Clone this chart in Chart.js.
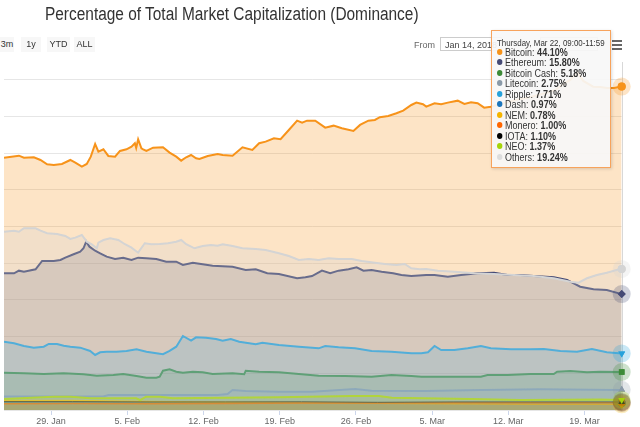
<!DOCTYPE html>
<html>
<head>
<meta charset="utf-8">
<script src="https://cdn.jsdelivr.net/npm/chart.js@4.4.1/dist/chart.umd.min.js"></script>
<style>
  html, body { margin: 0; padding: 0; background: #fff; }
  #wrap { position: relative; width: 640px; height: 427px; overflow: hidden; font-family: "Liberation Sans", Arial, sans-serif; }
  #c { position: absolute; left: 0; top: 0; }
  .t { position: absolute; white-space: nowrap; transform-origin: left center; }
  #title { left: 45px; top: 4px; font-size: 18px; color: #333; transform: scaleX(0.857); }
  .btn { position: absolute; top: 37px; height: 15px; background: #f7f7f7; color: #333; font-size: 9px; line-height: 15px; text-align: center; }
  #from { left: 414px; top: 38px; font-size: 9px; color: #666; line-height: 14px; }
  .inp { position: absolute; top: 37px; height: 14px; border: 1px solid #cccccc; background: #fff; font-size: 9px; line-height: 14px; color: #444; padding-left: 4px; box-sizing: border-box; overflow: hidden; white-space: nowrap; }
  #burger { position: absolute; left: 612px; top: 40px; width: 10px; }
  #burger div { height: 2px; background: #666; margin-bottom: 2px; }
  #tip { position: absolute; left: 491px; top: 30px; width: 120px; height: 138px; border: 1px solid #f7a35c; background: rgba(247,247,247,0.92); box-sizing: border-box; box-shadow: 1px 1px 3px rgba(0,0,0,0.15); }
  #tip .hd { position: absolute; left: 5px; top: 7px; font-size: 9px; color: #333; white-space: nowrap; transform-origin: left center; transform: scaleX(0.88); }
  #tip .row { position: absolute; left: 5px; font-size: 10px; color: #333; white-space: nowrap; transform-origin: left center; transform: scaleX(0.9); }
  #tip .dot { display: inline-block; width: 6px; height: 6px; border-radius: 3px; margin-right: 3px; vertical-align: 1px; }
</style>
</head>
<body>
<div id="wrap">
  <canvas id="c" width="640" height="427"></canvas>
  <div class="t" id="title">Percentage of Total Market Capitalization (Dominance)</div>
  <div class="btn" style="left:0px;width:14px;">3m</div>
  <div class="btn" style="left:21px;width:20px;">1y</div>
  <div class="btn" style="left:47px;width:23px;">YTD</div>
  <div class="btn" style="left:74px;width:21px;">ALL</div>
  <div class="t" id="from">From</div>
  <div class="inp" style="left:440px;width:62px;">Jan 14, 2018</div>
  <div class="inp" style="left:540px;width:58px;"></div>
  <div id="burger"><div></div><div></div><div></div></div>
  <div id="tip"></div>
</div>
<script>
// ---- x positions: days relative to 29 Jan 2018 ----
const tickDays = [0, 7, 14, 21, 28, 35, 42, 49];
const tickLabels = ['29. Jan', '5. Feb', '12. Feb', '19. Feb', '26. Feb', '5. Mar', '12. Mar', '19. Mar'];
const xMin = -4.32, xMax = 52.41;

const seriesNames = ['Bitcoin','Ethereum','Bitcoin Cash','Litecoin','Ripple','Dash','NEM','Monero','IOTA','NEO','Others'];
const seriesColors = ['#f7931a','#454a75','#3d8b37','#8a9aa8','#27a2db','#1c75bc','#f5b400','#ff6600','#222222','#a6d40a','#d4d4d4'];
const tooltipValues = ['44.10%','15.80%','5.18%','2.75%','7.71%','0.97%','0.78%','1.00%','1.10%','1.37%','19.24%'];
const tooltipHeader = 'Thursday, Mar 22, 09:00-11:59';

const btcDays = [-4.32,-2.95,-2.49,-1.58,-0.97,-0.36,0.25,1.00,1.77,2.23,2.83,3.28,3.65,4.05,4.35,4.81,5.26,5.88,6.33,6.93,7.39,7.70,7.82,8.00,8.30,8.46,8.76,9.37,10.28,10.89,11.50,11.95,12.41,12.86,13.32,13.63,14.39,15.30,15.76,16.67,17.58,18.49,19.11,19.71,20.47,21.08,21.84,22.60,23.06,23.51,24.27,25.18,25.95,26.71,27.77,28.38,29.14,29.74,30.20,30.97,31.72,32.34,33.09,33.55,34.16,34.46,35.22,35.83,36.44,37.35,37.96,38.57,39.18,39.78,40.39,41.30,42.67,44.04,45.41,46.32,47.05,47.69,48.33,48.88,49.79,50.43,51.07,51.70,52.41];
const btcVals = [34.41,34.68,34.41,34.46,34.09,33.51,33.41,33.55,34.09,33.72,33.18,33.55,34.54,36.27,35.22,35.55,34.64,34.54,35.32,35.55,35.91,36.37,35.73,36.92,35.69,35.55,35.32,35.77,35.82,35.09,34.54,34.00,34.46,34.77,34.32,34.23,34.64,34.91,34.77,34.68,35.82,35.46,36.37,36.59,37.05,36.92,38.18,39.45,39.18,39.45,39.45,38.50,38.77,38.41,38.05,38.87,39.45,39.55,39.92,40.09,40.46,40.82,41.59,41.91,41.69,41.36,41.82,41.69,41.91,42.18,41.73,41.96,41.82,41.22,41.36,41.73,42.27,42.68,43.23,43.64,44.46,45.00,46.09,44.87,44.09,44.05,43.91,43.91,44.10];

const othDays = [-4.32,-3.40,-2.95,-2.49,-1.42,-0.97,-0.36,0.55,1.31,1.77,2.23,2.83,3.28,3.74,4.20,4.35,4.81,5.42,6.18,6.79,7.39,8.00,8.61,9.22,9.98,10.74,11.50,11.95,12.41,13.18,13.93,14.69,15.30,15.76,16.67,17.58,18.80,19.71,20.93,21.84,22.76,23.67,24.58,25.49,26.41,27.62,28.53,29.74,30.66,31.72,32.48,33.09,33.85,34.46,35.53,37.04,38.87,40.69,42.52,44.34,46.17,47.69,48.45,49.22,50.13,51.04,51.95,52.41];
const othVals = [24.31,24.45,24.31,24.78,24.78,24.45,24.10,24.00,23.73,23.32,23.50,23.86,22.95,22.60,22.05,22.82,23.18,23.41,23.18,22.60,22.13,21.45,22.73,22.60,22.64,22.73,22.95,23.18,22.60,22.05,22.36,22.50,22.41,22.60,22.36,22.05,21.96,21.82,21.37,21.00,20.46,20.59,20.46,20.69,20.59,20.59,20.32,20.09,19.91,19.77,19.91,19.32,19.19,19.23,19.00,18.86,18.64,18.55,18.41,18.27,17.96,17.50,17.36,17.96,18.41,18.72,19.09,19.24];

const ethDays = [-4.32,-3.40,-2.95,-2.49,-1.42,-0.82,0.25,0.86,1.31,2.07,2.68,2.98,3.23,3.53,4.05,4.51,5.11,5.88,6.63,7.39,8.00,8.76,9.67,10.58,11.50,12.11,13.02,13.93,14.84,16.67,17.88,18.80,19.86,20.93,22.60,23.36,23.97,24.88,25.64,26.41,27.32,28.07,28.69,29.44,30.36,31.42,32.18,33.09,34.46,35.22,36.44,37.66,39.18,40.69,41.92,43.13,44.34,46.17,47.39,48.60,49.82,51.04,52.41];
const ethVals = [18.64,18.64,19.00,18.86,19.19,20.32,20.32,20.46,20.77,21.23,21.59,22.05,22.95,22.27,21.72,21.37,20.91,20.59,20.77,20.46,20.77,20.69,20.59,20.22,20.22,19.77,20.09,19.87,19.68,19.54,19.09,19.19,18.64,18.55,17.96,18.10,18.27,19.00,18.64,19.00,19.19,19.46,19.00,19.09,18.86,18.64,18.41,18.27,18.41,18.41,18.18,18.41,18.64,18.72,18.41,18.41,18.27,18.10,17.73,16.81,16.46,16.36,15.80];

const xrpDays = [-4.32,-3.40,-2.49,-1.58,-0.67,-0.21,0.55,1.16,1.77,2.68,3.59,4.05,4.51,5.11,6.02,6.93,7.85,8.76,9.67,10.28,10.89,11.50,12.11,12.86,13.32,14.23,15.15,15.76,16.51,17.28,18.80,19.41,20.93,22.76,24.58,25.18,26.41,27.92,29.44,31.27,33.09,34.01,34.62,35.22,35.83,37.04,38.27,39.48,40.39,42.22,44.04,45.26,46.77,48.30,49.67,51.04,52.41];
const xrpVals = [9.31,9.10,8.73,8.50,8.63,9.00,9.00,8.77,8.63,8.50,8.05,7.50,7.87,7.95,7.95,8.05,8.28,7.95,7.73,7.60,8.05,8.63,10.09,9.45,9.91,9.86,9.68,9.45,9.68,9.31,8.96,9.18,8.86,8.63,8.41,8.73,8.55,8.41,8.05,7.95,7.73,7.73,7.87,8.73,8.18,8.18,8.41,8.73,8.41,8.28,8.28,8.32,8.05,7.95,8.32,7.87,7.71];

const bchDays = [-4.32,-2.49,-0.67,1.16,2.98,4.20,5.72,6.63,7.85,8.76,9.67,9.98,10.28,10.89,11.50,12.11,13.02,13.93,14.84,16.67,17.74,17.88,19.11,20.93,22.76,24.58,27.01,29.44,31.27,33.09,34.01,37.04,39.48,40.09,41.92,44.04,46.17,46.48,47.69,49.22,50.43,52.41];
const bchVals = [5.09,5.00,4.91,5.00,4.87,4.68,4.77,4.91,4.64,4.40,4.40,4.54,5.36,5.55,5.22,5.09,5.22,5.14,4.91,5.00,4.87,5.36,5.22,5.14,4.91,4.68,4.64,4.54,4.77,4.64,4.54,4.54,4.54,4.77,4.77,4.91,4.91,5.22,5.32,5.14,5.22,5.18];

const ltcDays = [-4.32,4.81,5.26,15.30,16.21,16.67,17.86,20.93,23.97,27.92,29.44,34.31,39.48,44.95,52.25,52.41];
const ltcVals = [1.84,1.84,2.05,2.05,2.18,2.73,2.59,2.50,2.50,2.86,2.63,2.59,2.73,2.82,2.73,2.75];

const neoDays = [-4.32,0.25,1.80,3.62,7.82,8.18,8.73,10.00,11.20,20.93,27.60,30.10,31.30,38.60,43.10,50.40,52.41];
const neoVals = [1.50,1.81,1.81,1.60,1.60,1.36,1.81,1.81,1.60,1.73,1.91,1.91,1.68,1.50,1.36,1.43,1.37];

const smallDays = [-4.32,2,9,16,23,30,37,44,52.41];
const dashVals = [1.00,1.00,0.95,1.00,1.00,0.95,0.95,0.95,0.97];
const nemVals = [1.30,1.28,1.15,1.05,0.98,0.92,0.86,0.80,0.78];
const xmrVals = [0.85,0.90,0.85,0.90,0.95,0.95,1.00,1.00,1.00];
const iotaVals = [1.15,1.15,1.10,1.10,1.12,1.05,1.10,1.10,1.10];

const seriesDays = [btcDays, ethDays, bchDays, ltcDays, xrpDays, smallDays, smallDays, smallDays, smallDays, neoDays, othDays];
const seriesVals = [btcVals, ethVals, bchVals, ltcVals, xrpVals, dashVals, nemVals, xmrVals, iotaVals, neoVals, othVals];
const pointStyles = ['circle','rectRot','rect','triangle','triangle','circle','rectRot','rect','triangle','triangle','circle'];
const pointRots = [0,0,0,0,180,0,0,0,0,180,0];
const fillAlpha = [0.25,0.2,0.2,0.2,0.2,0.2,0.2,0.2,0.12,0.2,0.25];
const lineWidths = [2,2,2,2,2,1.5,1.5,1.5,1,2,2];

function rgba(hex, a) {
  const n = parseInt(hex.slice(1), 16);
  return 'rgba(' + (n >> 16 & 255) + ',' + (n >> 8 & 255) + ',' + (n & 255) + ',' + a + ')';
}

// tooltip text
const tip = document.getElementById('tip');
let html = '<div class="hd">' + tooltipHeader + '</div>';
seriesNames.forEach((nm, i) => {
  html += '<div class="row" style="top:' + (15.5 + i * 10.5) + 'px"><span class="dot" style="background:' + (i === 10 ? '#dddddd' : (i === 8 ? '#000000' : seriesColors[i])) + '"></span>' + nm + ': <b>' + tooltipValues[i] + '</b></div>';
});
tip.innerHTML = html;

const datasets = seriesNames.map((nm, i) => {
  const n = seriesDays[i].length;
  return {
    label: nm,
    data: seriesDays[i].map((d, k) => ({ x: d, y: seriesVals[i][k] })),
    borderColor: seriesColors[i],
    backgroundColor: rgba(seriesColors[i], fillAlpha[i]),
    borderWidth: lineWidths[i],
    fill: 'origin',
    tension: 0,
    order: 20 - i,
    pointRadius: c => c.dataIndex === n - 1 ? 4 : 0,
    pointStyle: pointStyles[i],
    rotation: pointRots[i],
    pointBackgroundColor: seriesColors[i],
    pointBorderColor: seriesColors[i],
    pointBorderWidth: 0,
    clip: { left: 0, top: 0, right: 14, bottom: 14 }
  };
});

const hoverPlugin = {
  id: 'hover',
  beforeDatasetsDraw(chart) {
    const ctx = chart.ctx, a = chart.chartArea;
    const x = chart.scales.x.getPixelForValue(xMax);
    ctx.save();
    ctx.strokeStyle = '#d8d8d8';
    ctx.lineWidth = 1;
    ctx.beginPath();
    ctx.moveTo(Math.round(x) + 0.5, a.top);
    ctx.lineTo(Math.round(x) + 0.5, a.bottom);
    ctx.stroke();
    ctx.restore();
  },
  afterDatasetsDraw(chart) {
    const ctx = chart.ctx;
    const metas = chart.getSortedVisibleDatasetMetas().slice().reverse();
    const big = { left: -1000, right: 10000, top: -1000, bottom: 10000 };
    metas.forEach(meta => {
      const i = meta.index;
      const el = meta.data[meta.data.length - 1];
      ctx.save();
      ctx.fillStyle = rgba(seriesColors[i], 0.25);
      ctx.beginPath();
      ctx.arc(el.x, el.y, 9, 0, Math.PI * 2);
      ctx.fill();
      ctx.restore();
      el.draw(ctx, big);
    });
  }
};

new Chart(document.getElementById('c'), {
  type: 'line',
  data: { datasets },
  options: {
    responsive: false,
    animation: false,
    events: [],
    layout: { padding: { top: 62, right: 18.3, left: 0, bottom: 0 } },
    plugins: { legend: { display: false }, tooltip: { enabled: false }, title: { display: false } },
    scales: {
      x: {
        type: 'linear',
        min: xMin, max: xMax,
        afterBuildTicks: s => { s.ticks = tickDays.map(v => ({ value: v })); },
        afterFit: s => { s.height = 17; },
        grid: { drawOnChartArea: false, drawTicks: true, tickLength: 5, tickColor: '#ccd6eb', color: '#ccd6eb' },
        border: { display: false },
        ticks: {
          autoSkip: false, maxRotation: 0, padding: 1,
          color: '#666', font: { family: '"Liberation Sans", Arial, sans-serif', size: 9 },
          callback: v => tickLabels[tickDays.indexOf(v)] ?? ''
        }
      },
      y: {
        type: 'linear',
        min: 0, max: 47.45,
        afterBuildTicks: s => { s.ticks = [0,5,10,15,20,25,30,35,40,45].map(v => ({ value: v })); },
        afterFit: s => { s.width = 0; },
        grid: { color: '#e6e6e6', drawTicks: false },
        border: { display: false },
        ticks: { display: false }
      }
    }
  },
  plugins: [hoverPlugin]
});
</script>
</body>
</html>
